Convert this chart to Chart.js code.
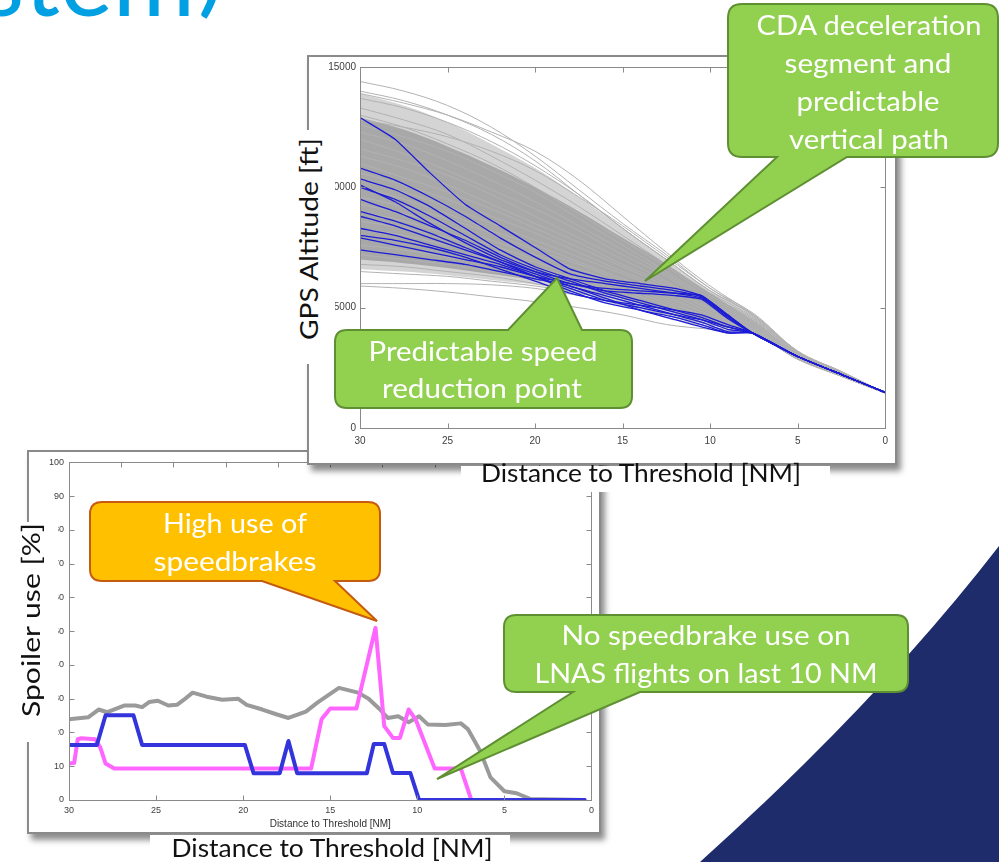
<!DOCTYPE html>
<html><head><meta charset="utf-8">
<script src="https://cdn.jsdelivr.net/npm/chart.js@4.4.1/dist/chart.umd.min.js"></script>
<style>
html,body{margin:0;padding:0;background:#fff;}
body{width:999px;height:862px;position:relative;overflow:hidden;}
svg{position:absolute;left:0;top:0;}
#bg{z-index:0}
#ov{z-index:3;pointer-events:none}
.frame{position:absolute;background:#fff;border:2px solid #8a8a8a;box-sizing:border-box;box-shadow:4px 6px 6px rgba(0,0,0,0.45);}
.frame canvas{position:absolute;left:0;top:0;}
#f2{left:27px;top:450px;width:574px;height:384px;z-index:1}
#f1{left:307px;top:55px;width:590px;height:410px;z-index:2}
</style></head><body>
<svg id="bg" width="999" height="862">
  <path d="M999 546 Q880 700 700 862 L999 862 Z" fill="#1e2c6b"/>
  <text x="195" y="16" font-family="Lato" font-size="100" fill="#00a0e2" text-anchor="end">System</text>
  <text x="198" y="4" font-family="Lato" font-size="100" fill="#00a0e2" text-anchor="start">)</text>
</svg>
<div class="frame" id="f2"><canvas id="c2" width="570" height="380"></canvas></div>
<div class="frame" id="f1"><canvas id="c1" width="586" height="406"></canvas></div>
<svg id="ov" width="999" height="862"></svg>
<script>
// ---------- Top chart data: GPS altitude [ft] vs distance to threshold [NM] ----------
const distNodes = [30, 27.5, 25, 22.5, 20, 17.5, 15, 12.5, 10, 7.5, 5, 2.5, 0];
const altTicks = [0, 5000, 10000, 15000];
const distTicks = [30, 25, 20, 15, 10, 5, 0];

const bandOuterUpper = [13900, 13400, 12700, 11800, 10800, 9600, 8300, 7000, 5700, 4600, 3150, 2300, 1450];
const bandOuterLower = [6600, 6500, 6350, 6150, 5950, 5600, 5100, 4700, 4300, 3900, 2880, 2160, 1450];
const bandInnerUpper = [12900, 12400, 11700, 10900, 10000, 9000, 7900, 6800, 5600, 4450, 3100, 2270, 1450];
const bandInnerLower = [7000, 6850, 6650, 6400, 6150, 5850, 5400, 4900, 4450, 3930, 2920, 2170, 1450];

const gray01 = [14400, 14000, 13400, 12500, 11300, 9900, 8500, 7200, 5800, 4750, 3200, 2350, 1450];
const gray02 = [14000, 13600, 13000, 12200, 11100, 9700, 8300, 7000, 5700, 4700, 3180, 2340, 1450];
const gray03 = [13700, 13300, 12700, 11900, 10900, 9700, 8300, 7000, 5700, 4650, 3160, 2330, 1450];
const gray04 = [13300, 12800, 12200, 11300, 10300, 9200, 8000, 6800, 5600, 4600, 3140, 2320, 1450];
const gray05 = [13000, 12500, 11800, 11000, 10000, 8900, 7800, 6700, 5500, 4550, 3120, 2300, 1450];
const gray06 = [12600, 12100, 11500, 10700, 9800, 8700, 7600, 6500, 5400, 4500, 3100, 2290, 1450];
const gray07 = [12300, 11800, 11100, 10300, 9400, 8400, 7400, 6400, 5300, 4450, 3080, 2280, 1450];
const gray08 = [12000, 11400, 10700, 9900, 9100, 8200, 7200, 6300, 5200, 4400, 3060, 2270, 1450];
const gray09 = [11600, 11100, 10500, 9700, 8800, 7900, 7000, 6100, 5100, 4350, 3040, 2260, 1450];
const gray10 = [11300, 10800, 10100, 9300, 8500, 7700, 6800, 6000, 5000, 4300, 3020, 2250, 1450];
const gray11 = [11000, 10400, 9800, 9100, 8300, 7500, 6700, 5900, 4950, 4250, 3000, 2240, 1450];
const gray12 = [10600, 10100, 9500, 8800, 8100, 7300, 6500, 5800, 4900, 4200, 2990, 2230, 1450];
const gray13 = [10300, 9800, 9200, 8500, 7800, 7100, 6400, 5700, 4800, 4150, 2980, 2220, 1450];
const gray14 = [10000, 9500, 8900, 8200, 7600, 6900, 6200, 5600, 4800, 4100, 2970, 2210, 1450];
const gray15 = [9600, 9200, 8700, 8100, 7400, 6800, 6100, 5500, 4700, 4080, 2960, 2200, 1450];
const gray16 = [9300, 8900, 8400, 7800, 7200, 6600, 6000, 5400, 4700, 4050, 2950, 2190, 1450];
const gray17 = [9000, 8600, 8100, 7600, 7000, 6400, 5900, 5300, 4600, 4020, 2940, 2180, 1450];
const gray18 = [8600, 8300, 7900, 7400, 6900, 6300, 5800, 5200, 4600, 4000, 2930, 2180, 1450];
const gray19 = [8300, 8000, 7600, 7200, 6700, 6200, 5700, 5100, 4500, 3980, 2920, 2170, 1450];
const gray20 = [8000, 7700, 7400, 7000, 6600, 6100, 5600, 5000, 4500, 3960, 2910, 2170, 1450];
const gray21 = [7600, 7400, 7100, 6800, 6400, 6000, 5500, 5000, 4400, 3950, 2900, 2160, 1450];
const gray22 = [7200, 7000, 6800, 6500, 6200, 5800, 5400, 4900, 4400, 3940, 2890, 2160, 1450];
const gray23 = [6800, 6700, 6500, 6300, 6000, 5700, 5300, 4800, 4300, 3930, 2880, 2150, 1450];
const gray24 = [6500, 6400, 6300, 6100, 5900, 5600, 5200, 4700, 4300, 3920, 2870, 2150, 1450];
const gray25 = [6000, 6000, 6000, 5950, 5800, 5500, 5100, 4600, 4200, 3910, 2860, 2150, 1450];
const gray26 = [5900, 5800, 5650, 5450, 5250, 5000, 4700, 4300, 4100, 3900, 2850, 2150, 1450];
const gray27 = [13900, 13500, 13000, 12300, 11500, 10300, 8800, 7300, 5900, 4700, 3190, 2340, 1450];
const gray28 = [12800, 12500, 12100, 11500, 10700, 9600, 8400, 7100, 5800, 4650, 3150, 2320, 1450];
const grayTracks = [gray01, gray02, gray03, gray04, gray05, gray06, gray07, gray08, gray09, gray10,
  gray11, gray12, gray13, gray14, gray15, gray16, gray17, gray18, gray19, gray20,
  gray21, gray22, gray23, gray24, gray25, gray26, gray27, gray28];

const blueNodes = [30, 28, 26, 24, 22, 20, 18, 16, 14, 12, 10.5, 9, 7.6, 5, 2.5, 0];
const blue01 = [12900, 12000, 10600, 9300, 8400, 7500, 6600, 6200, 6000, 5800, 5500, 4700, 3950, 2970, 2220, 1480];
const blue02 = [10800, 10300, 9600, 8800, 7900, 7100, 6400, 6100, 5900, 5700, 5450, 4650, 3950, 2970, 2220, 1480];
const blue03 = [10350, 9900, 9200, 8300, 7400, 6700, 6200, 5700, 5300, 4900, 4600, 4200, 3950, 2970, 2220, 1480];
const blue04 = [10100, 9400, 8500, 7700, 7000, 6500, 6200, 6000, 5800, 5600, 5400, 4600, 3950, 2970, 2220, 1480];
const blue05 = [10000, 9500, 8800, 8000, 7200, 6600, 6100, 5600, 5200, 4800, 4500, 4100, 3950, 2970, 2220, 1480];
const blue06 = [9500, 9000, 8400, 7800, 7100, 6500, 6000, 5800, 5700, 5600, 5500, 4700, 3950, 2970, 2220, 1480];
const blue07 = [8800, 8400, 7900, 7400, 6900, 6400, 5900, 5500, 5100, 4700, 4400, 4000, 3950, 2970, 2220, 1480];
const blue08 = [8300, 8000, 7600, 7200, 6800, 6300, 5800, 5300, 5000, 4700, 4500, 4200, 3950, 2970, 2220, 1480];
const blue09 = [7900, 7600, 7300, 7000, 6700, 6300, 6000, 5700, 5600, 5500, 5350, 4550, 3950, 2970, 2220, 1480];
const blue10 = [7400, 7200, 7000, 6800, 6500, 6200, 5900, 5400, 4900, 4500, 4200, 3950, 3950, 2970, 2220, 1480];
const blue11 = [9000, 8600, 8100, 7500, 6900, 6300, 5700, 5200, 4900, 4600, 4300, 3950, 3950, 2970, 2220, 1480];
const blue12 = [8000, 7800, 7500, 7100, 6600, 6100, 5600, 5300, 5100, 4900, 4700, 4300, 3950, 2970, 2220, 1480];
const blueTracks = [blue01, blue02, blue03, blue04, blue05, blue06, blue07, blue08, blue09, blue10, blue11, blue12];

// ---------- Bottom chart data: spoiler use [%] vs distance to threshold [NM] ----------
const spoilerTicks = [0, 10, 20, 30, 40, 50, 60, 70, 80, 90, 100];
const spoilerDistTicks = [30, 25, 20, 15, 10, 5, 0];
const spoilerTopTicks = [27, 24, 21, 18, 15, 12, 9, 6, 3];

const grayDist = [30, 28.9, 28.3, 27.8, 26.8, 26.2, 25.8, 25.4, 24.9, 24.3, 23.8, 23.4, 22.9, 22.1, 21.2, 20.3, 19.8, 18.9, 18.1, 17.4, 16.4, 15.7, 14.5, 13.4, 12.8, 12.2, 11.7, 11.1, 10.5, 9.9, 9.4, 8.4, 7.5, 7.1, 6.4, 5.8, 5.0, 4.3, 3.5, 0.4];
const grayUse  = [23.9, 24.5, 26.8, 26, 28, 28, 27.5, 29, 29.4, 28, 28.2, 29.7, 31.8, 30.6, 29.7, 30, 28.2, 26.8, 25.4, 24.3, 26.2, 29, 33.2, 31.8, 30, 27.1, 24.3, 24.8, 23, 24.8, 22.4, 22.2, 22.7, 21, 14.6, 6.7, 2.6, 2, 0.3, 0];
const pinkDist = [30, 29.7, 29.5, 29.3, 28.5, 28.2, 27.9, 27.4, 16.1, 15.5, 15.0, 13.5, 12.4, 11.9, 11.4, 11.0, 10.5, 10.1, 9.0, 7.5, 6.9, 0.4];
const pinkUse  = [10.8, 11, 18, 18.3, 18, 15.5, 10.8, 9.3, 9.3, 23.9, 27.1, 27.1, 51, 21.9, 18.4, 18.4, 26.8, 23.9, 9.3, 9.3, 0, 0];
const blueDist = [30, 28.4, 27.9, 26.3, 25.8, 19.9, 19.4, 17.9, 17.4, 16.9, 12.9, 12.5, 11.9, 11.4, 10.4, 9.9, 0.4];
const blueUse  = [16.3, 16.3, 25.1, 25.1, 16.3, 16.3, 7.9, 7.9, 17.5, 7.9, 7.9, 16.6, 16.6, 8.0, 8.0, 0, 0];

// ---------- helpers ----------
const toPts = (xs, ys) => xs.map((x, i) => ({x: x, y: ys[i]}));

const boxTicks = {
  id: 'boxTicks',
  afterDraw(chart, args, opts) {
    const {ctx, chartArea: a, scales: {x, y}} = chart;
    ctx.save();
    ctx.strokeStyle = opts.color;
    ctx.lineWidth = 1;
    const L = Math.round(a.left) + 0.5, R = Math.round(a.right) + 0.5;
    const T = Math.round(a.top) + 0.5, B = Math.round(a.bottom) + 0.5;
    ctx.strokeRect(L, T, R - L, B - T);
    ctx.beginPath();
    opts.bottomTicks.forEach(v => { const p = Math.round(x.getPixelForValue(v)) + 0.5; ctx.moveTo(p, B); ctx.lineTo(p, B - opts.len); });
    opts.topTicks.forEach(v => { const p = Math.round(x.getPixelForValue(v)) + 0.5; ctx.moveTo(p, T); ctx.lineTo(p, T + opts.len); });
    y.ticks.forEach(t => { const p = Math.round(y.getPixelForValue(t.value)) + 0.5; ctx.moveTo(L, p); ctx.lineTo(L + opts.len, p); ctx.moveTo(R, p); ctx.lineTo(R - opts.len, p); });
    ctx.stroke();
    ctx.restore();
  }
};

// ---------- top chart ----------
const topSets = [];
topSets.push({data: toPts(distNodes, bandOuterUpper), fill: '+1', backgroundColor: 'rgba(170,170,170,0.5)', borderWidth: 0, tension: 0.35, order: 6});
topSets.push({data: toPts(distNodes, bandOuterLower), fill: false, borderWidth: 0, tension: 0.35, order: 6});
topSets.push({data: toPts(distNodes, bandInnerUpper), fill: '+1', backgroundColor: 'rgba(150,150,150,0.7)', borderWidth: 0, tension: 0.35, order: 5});
topSets.push({data: toPts(distNodes, bandInnerLower), fill: false, borderWidth: 0, tension: 0.35, order: 5});
grayTracks.forEach(t => topSets.push({data: toPts(distNodes, t), borderColor: '#b2b2b2', borderWidth: 1, tension: 0.35, fill: false, order: 2}));
blueTracks.forEach(t => topSets.push({data: toPts(blueNodes, t), borderColor: '#1c1cd6', borderWidth: 1.3, tension: 0.15, fill: false, order: 1}));

const tickFontTop = {family: 'Liberation Sans', size: 10};
new Chart(document.getElementById('c1'), {
  type: 'line',
  data: {datasets: topSets},
  plugins: [boxTicks],
  options: {
    responsive: false, animation: false, events: [],
    elements: {point: {radius: 0}},
    layout: {padding: {left: 0, right: 2, top: 8, bottom: 0}},
    plugins: {legend: {display: false}, tooltip: {enabled: false},
      boxTicks: {color: '#8a8a8a', len: 5, bottomTicks: distTicks, topTicks: distTicks}},
    scales: {
      x: {type: 'linear', reverse: true, min: 0, max: 30,
        grid: {display: false, drawTicks: false}, border: {display: false},
        afterBuildTicks: s => { s.ticks = distTicks.map(v => ({value: v})); },
        ticks: {padding: 7, color: '#404040', font: tickFontTop, maxRotation: 0, autoSkip: false},
        afterFit: s => { s.height = 35; }},
      y: {type: 'linear', min: 0, max: 15000,
        grid: {display: false, drawTicks: false}, border: {display: false},
        afterBuildTicks: s => { s.ticks = altTicks.map(v => ({value: v})); },
        ticks: {padding: 4, color: '#404040', font: tickFontTop, callback: v => String(v)},
        afterFit: s => { s.width = 51; }}
    }
  }
});

// ---------- bottom chart ----------
const tickFontBot = {family: 'Liberation Sans', size: 9};
new Chart(document.getElementById('c2'), {
  type: 'line',
  data: {datasets: [
    {data: toPts(blueDist, blueUse), borderColor: '#3434dc', borderWidth: 4, tension: 0, order: 0},
    {data: toPts(pinkDist, pinkUse), borderColor: '#ff66ff', borderWidth: 4, tension: 0, order: 1},
    {data: toPts(grayDist, grayUse), borderColor: '#9a9a9a', borderWidth: 4, tension: 0, order: 2}
  ]},
  plugins: [boxTicks],
  options: {
    responsive: false, animation: false, events: [],
    elements: {point: {radius: 0}, line: {borderJoinStyle: 'round', borderCapStyle: 'round'}},
    layout: {padding: {left: 0, right: 5, top: 5, bottom: 0}},
    plugins: {legend: {display: false}, tooltip: {enabled: false},
      boxTicks: {color: '#8a8a8a', len: 5, bottomTicks: spoilerDistTicks, topTicks: spoilerTopTicks}},
    scales: {
      x: {type: 'linear', reverse: true, min: 0, max: 30,
        grid: {display: false, drawTicks: false}, border: {display: false},
        afterBuildTicks: s => { s.ticks = spoilerDistTicks.map(v => ({value: v})); },
        ticks: {padding: 5, color: '#404040', font: tickFontBot, maxRotation: 0, autoSkip: false},
        title: {display: true, text: 'Distance to Threshold [NM]', color: '#303030', font: {family: 'Liberation Sans', size: 10}, padding: {top: 0, bottom: 2}},
        afterFit: s => { s.height = 32; }},
      y: {type: 'linear', min: 0, max: 100,
        grid: {display: false, drawTicks: false}, border: {display: false},
        afterBuildTicks: s => { s.ticks = spoilerTicks.map(v => ({value: v})); },
        ticks: {padding: 5, color: '#404040', font: tickFontBot, callback: v => String(v)},
        afterFit: s => { s.width = 40; }}
    }
  }
});

// ---------- slide overlay: axis labels and callouts ----------
function calloutPath(x1, y1, x2, y2, r, side, a, b, px, py) {
  let d = `M${x1 + r},${y1} `;
  if (side === 'top') d += `H${a} L${px},${py} L${b},${y1} `;
  d += `H${x2 - r} Q${x2},${y1} ${x2},${y1 + r} V${y2 - r} Q${x2},${y2} ${x2 - r},${y2} `;
  if (side === 'bottom') d += `H${b} L${px},${py} L${a},${y2} `;
  d += `H${x1 + r} Q${x1},${y2} ${x1},${y2 - r} V${y1 + r} Q${x1},${y1} ${x1 + r},${y1} Z`;
  return d;
}
const NS = 'http://www.w3.org/2000/svg';
const ov = document.getElementById('ov');
function el(tag, attrs, text) {
  const e = document.createElementNS(NS, tag);
  for (const k in attrs) e.setAttribute(k, attrs[k]);
  if (text) e.textContent = text;
  ov.appendChild(e);
  return e;
}
function label(txt, x, y, len, size, fill, rot) {
  const a = {x: 0, y: 0, 'font-family': 'Lato', 'font-size': size, fill: fill, 'text-anchor': 'middle',
    textLength: len, lengthAdjust: 'spacingAndGlyphs', transform: `translate(${x},${y})` + (rot ? ` rotate(${rot})` : '')};
  return el('text', a, txt);
}
// white label boxes
el('rect', {x: 292, y: 130, width: 43, height: 234, fill: '#fff'});
el('rect', {x: 14, y: 522, width: 44, height: 220, fill: '#fff'});
el('rect', {x: 461, y: 466, width: 369, height: 26, fill: '#fff'});
el('rect', {x: 150, y: 835, width: 360, height: 27, fill: '#fff'});
label('GPS Altitude [ft]', 318, 239, 202, 25, '#111', -90);
label('Spoiler use [%]', 40, 620, 194, 25, '#111', -90);
label('Distance to Threshold [NM]', 641, 482, 320, 25, '#111');
label('Distance to Threshold [NM]', 332, 857, 321, 25, '#111');

// callouts
const green = '#92d050', greenEdge = '#5f8f33';
el('path', {d: calloutPath(728, 4, 998, 157, 14, 'bottom', 777, 847, 645, 281), fill: green, stroke: greenEdge, 'stroke-width': 2});
label('CDA deceleration', 869, 35, 225, 26, '#fff');
label('segment and', 868, 73, 167, 26, '#fff');
label('predictable', 868, 111, 143, 26, '#fff');
label('vertical path', 869, 149, 160, 26, '#fff');

el('path', {d: calloutPath(335, 330, 632, 408, 12, 'top', 508, 582, 557, 278), fill: green, stroke: greenEdge, 'stroke-width': 2});
label('Predictable speed', 483, 361, 229, 26, '#fff');
label('reduction point', 482, 398, 200, 26, '#fff');

el('path', {d: calloutPath(90, 502, 380, 581, 12, 'bottom', 262, 335, 377, 621), fill: '#ffc000', stroke: '#c55a11', 'stroke-width': 2});
label('High use of', 235, 533, 144, 26, '#fff');
label('speedbrakes', 235, 571, 163, 26, '#fff');

el('path', {d: calloutPath(504, 615, 908, 692, 12, 'bottom', 573, 640, 437, 779), fill: green, stroke: greenEdge, 'stroke-width': 2});
label('No speedbrake use on', 706, 645, 289, 26, '#fff');
label('LNAS flights on last 10 NM', 706, 683, 343, 26, '#fff');
</script>
</body></html>
